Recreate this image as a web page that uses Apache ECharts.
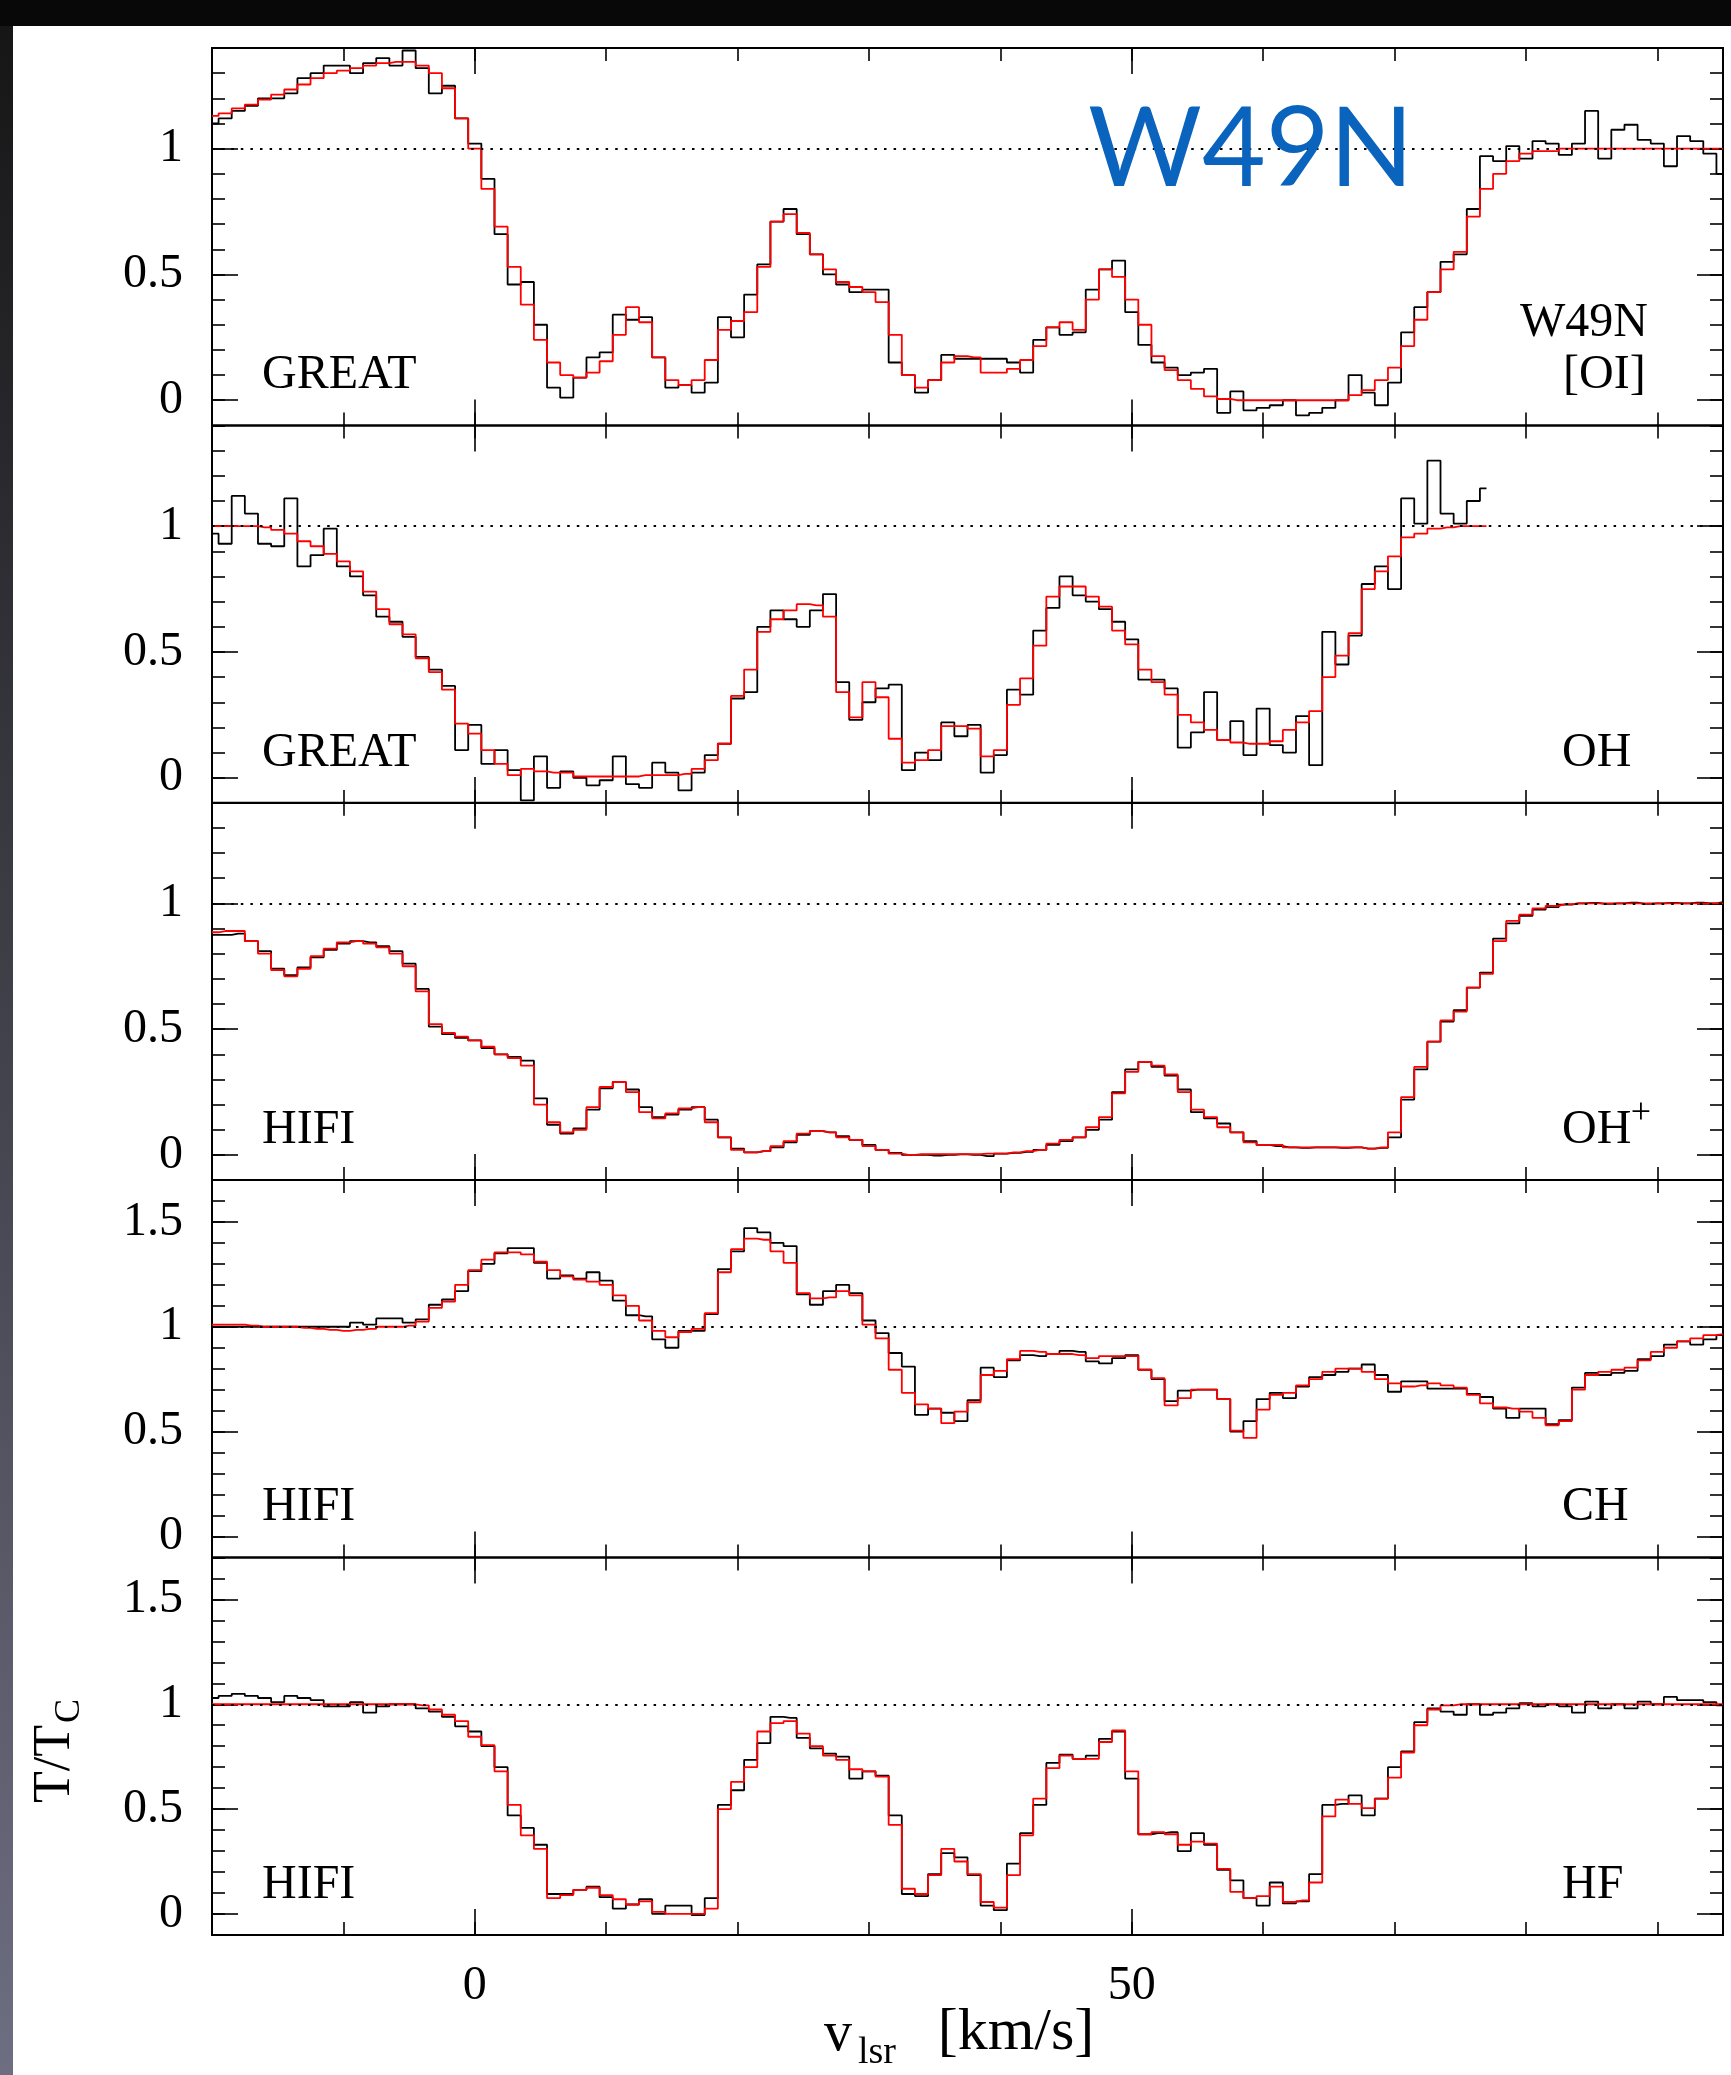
<!DOCTYPE html>
<html><head><meta charset="utf-8">
<script src="https://cdn.jsdelivr.net/npm/echarts@6/dist/echarts.min.js"></script>
<style>html,body{margin:0;padding:0;background:#fff}#c{width:1731px;height:2075px}</style>
</head><body><div id="c"></div>
<script>
// ---------------- DATA ----------------
// channel velocities (km/s)
const velocity = [-20,-19,-18,-17,-16,-15,-14,-13,-12,-11,-10,-9,-8,-7,-6,-5,-4,-3,-2,-1,
 0,1,2,3,4,5,6,7,8,9,10,11,12,13,14,15,16,17,18,19,20,21,22,23,24,25,26,27,28,29,
 30,31,32,33,34,35,36,37,38,39,40,41,42,43,44,45,46,47,48,49,50,51,52,53,54,55,56,57,58,59,
 60,61,62,63,64,65,66,67,68,69,70,71,72,73,74,75,76,77,78,79,80,81,82,83,84,85,86,87,88,89,
 90,91,92,93,94,95];
const velocityOH = velocity.slice(0, 98); // OH spectrum stops at 77 km/s

// [OI] (GREAT)
const oiObs = [1.10,1.12,1.15,1.17,1.20,1.20,1.22,1.28,1.30,1.33,
 1.33,1.30,1.34,1.36,1.33,1.39,1.32,1.22,1.25,1.12,
 1.02,0.88,0.66,0.46,0.47,0.30,0.05,0.01,0.09,0.17,
 0.19,0.34,0.32,0.33,0.17,0.05,0.06,0.03,0.07,0.33,
 0.25,0.42,0.54,0.71,0.76,0.66,0.58,0.50,0.46,0.43,
 0.44,0.44,0.15,0.10,0.03,0.08,0.18,0.165,0.165,0.165,
 0.165,0.15,0.11,0.24,0.29,0.26,0.27,0.44,0.52,0.555,
 0.35,0.22,0.15,0.13,0.10,0.11,0.125,-0.05,0.035,-0.04,
 -0.03,-0.02,0.0,-0.06,-0.05,-0.03,0.0,0.10,0.03,-0.02,
 0.07,0.27,0.37,0.43,0.55,0.58,0.76,0.97,0.95,1.01,
 0.96,1.03,1.02,0.975,1.02,1.15,0.96,1.075,1.095,1.035,
 1.02,0.93,1.05,1.03,0.98,0.90];
const oiFit = [1.13,1.14,1.16,1.175,1.195,1.215,1.235,1.255,1.28,1.30,
 1.31,1.32,1.33,1.34,1.345,1.345,1.33,1.30,1.24,1.12,
 1.00,0.84,0.69,0.53,0.38,0.24,0.15,0.10,0.09,0.11,
 0.155,0.26,0.37,0.31,0.17,0.08,0.06,0.08,0.16,0.28,
 0.315,0.35,0.53,0.71,0.74,0.665,0.58,0.52,0.47,0.45,
 0.43,0.39,0.26,0.10,0.05,0.08,0.15,0.175,0.17,0.11,
 0.11,0.125,0.16,0.215,0.29,0.31,0.28,0.40,0.52,0.49,
 0.40,0.30,0.175,0.12,0.08,0.045,0.015,0.005,0.0,0.0,
 0.0,0.0,0.0,0.0,0.0,0.0,0.0,0.02,0.04,0.08,
 0.13,0.215,0.32,0.43,0.52,0.59,0.73,0.84,0.90,0.95,
 0.98,0.99,0.99,1.0,1.0,1.0,1.0,1.0,1.0,1.0,
 1.0,1.0,1.0,1.0,1.0,1.0];

// OH (GREAT)
const ohObs = [0.97,0.93,1.12,1.05,0.93,0.92,1.11,0.84,0.885,0.99,
 0.84,0.80,0.725,0.64,0.62,0.56,0.48,0.43,0.365,0.11,
 0.21,0.055,0.11,0.03,-0.09,0.085,-0.04,0.025,0.0,-0.03,
 -0.01,0.085,-0.025,-0.04,0.06,0.02,-0.05,0.02,0.09,0.135,
 0.315,0.34,0.60,0.665,0.63,0.60,0.665,0.73,0.38,0.23,
 0.30,0.355,0.37,0.03,0.10,0.07,0.22,0.165,0.21,0.02,
 0.09,0.35,0.33,0.585,0.675,0.80,0.725,0.70,0.67,0.62,
 0.55,0.39,0.39,0.355,0.12,0.18,0.34,0.15,0.225,0.09,
 0.275,0.13,0.10,0.245,0.05,0.58,0.45,0.565,0.77,0.84,
 0.75,1.11,1.01,1.26,1.05,1.01,1.10,1.15];
const ohFit = [1.0,1.0,1.0,1.0,0.995,0.985,0.97,0.94,0.92,0.89,
 0.86,0.82,0.74,0.67,0.61,0.57,0.475,0.42,0.35,0.215,
 0.175,0.11,0.055,0.01,0.035,0.025,0.02,0.02,0.005,0.005,
 0.005,0.005,0.005,0.01,0.01,0.01,0.015,0.035,0.07,0.135,
 0.325,0.43,0.58,0.63,0.665,0.69,0.685,0.64,0.34,0.24,
 0.38,0.32,0.155,0.06,0.07,0.11,0.205,0.205,0.195,0.085,
 0.11,0.29,0.395,0.525,0.72,0.76,0.76,0.72,0.68,0.585,
 0.53,0.43,0.38,0.33,0.25,0.22,0.19,0.15,0.14,0.135,
 0.135,0.145,0.19,0.22,0.265,0.40,0.485,0.575,0.75,0.82,
 0.88,0.955,0.97,0.99,0.995,1.0,1.0,1.0];

// OH+ (HIFI)
const ohpObs = [0.875,0.875,0.88,0.85,0.81,0.74,0.715,0.745,0.785,0.815,
 0.84,0.85,0.845,0.83,0.81,0.76,0.66,0.51,0.48,0.465,
 0.455,0.425,0.40,0.39,0.375,0.225,0.12,0.085,0.105,0.18,
 0.265,0.29,0.26,0.19,0.15,0.16,0.18,0.19,0.14,0.07,
 0.025,0.01,0.015,0.03,0.05,0.08,0.095,0.09,0.075,0.06,
 0.04,0.02,0.008,0.0,0.0,-0.003,0.0,0.002,0.0,-0.005,
 0.005,0.008,0.012,0.02,0.04,0.055,0.07,0.10,0.14,0.25,
 0.34,0.37,0.35,0.315,0.26,0.17,0.145,0.125,0.09,0.055,
 0.04,0.035,0.03,0.028,0.03,0.03,0.028,0.03,0.025,0.028,
 0.07,0.22,0.34,0.45,0.53,0.575,0.665,0.725,0.86,0.92,
 0.95,0.975,0.985,0.995,1.0,1.002,0.998,1.0,1.003,0.998,
 1.0,1.002,1.0,1.003,1.0,1.005];
const ohpFit = [0.885,0.89,0.89,0.85,0.80,0.735,0.71,0.74,0.79,0.82,
 0.845,0.85,0.84,0.825,0.80,0.75,0.65,0.52,0.485,0.47,
 0.455,0.43,0.40,0.385,0.355,0.20,0.13,0.09,0.10,0.19,
 0.27,0.29,0.25,0.17,0.145,0.165,0.185,0.19,0.13,0.07,
 0.02,0.01,0.015,0.035,0.055,0.085,0.095,0.09,0.07,0.06,
 0.035,0.02,0.005,0.0,0.003,0.003,0.003,0.003,0.003,0.005,
 0.005,0.01,0.015,0.02,0.045,0.06,0.07,0.11,0.15,0.245,
 0.33,0.37,0.355,0.32,0.25,0.18,0.15,0.11,0.09,0.05,
 0.04,0.04,0.03,0.03,0.03,0.03,0.03,0.03,0.025,0.03,
 0.09,0.23,0.35,0.45,0.535,0.57,0.665,0.72,0.85,0.93,
 0.955,0.98,0.99,0.997,1.0,1.0,1.0,1.0,1.0,1.0,
 1.0,1.0,1.0,1.0,1.0,1.0];

// CH (HIFI)
const chObs = [1.0,1.0,1.0,1.0,1.0,1.0,1.0,1.0,1.0,1.0,
 1.0,1.02,1.01,1.04,1.04,1.02,1.035,1.105,1.13,1.17,
 1.265,1.30,1.35,1.375,1.375,1.305,1.23,1.245,1.23,1.26,
 1.22,1.125,1.055,1.05,0.94,0.90,0.98,0.98,1.06,1.275,
 1.36,1.47,1.45,1.40,1.385,1.155,1.105,1.17,1.20,1.16,
 1.03,0.97,0.875,0.81,0.58,0.61,0.59,0.55,0.65,0.805,
 0.76,0.84,0.865,0.86,0.87,0.885,0.88,0.835,0.825,0.85,
 0.865,0.795,0.75,0.645,0.695,0.70,0.70,0.655,0.50,0.55,
 0.655,0.685,0.66,0.715,0.76,0.77,0.785,0.80,0.82,0.77,
 0.69,0.74,0.74,0.705,0.705,0.705,0.68,0.665,0.61,0.565,
 0.61,0.61,0.535,0.555,0.71,0.78,0.77,0.78,0.79,0.845,
 0.86,0.915,0.93,0.915,0.94,0.96];
const chFit = [1.01,1.01,1.01,1.005,1.0,1.0,1.0,0.995,0.99,0.985,
 0.98,0.985,0.99,1.0,1.0,1.005,1.025,1.09,1.12,1.20,
 1.27,1.32,1.355,1.355,1.345,1.31,1.27,1.24,1.225,1.215,
 1.20,1.15,1.10,1.03,0.98,0.95,0.975,0.99,1.065,1.26,
 1.37,1.42,1.415,1.36,1.305,1.16,1.135,1.14,1.17,1.15,
 1.01,0.945,0.795,0.685,0.63,0.61,0.54,0.595,0.64,0.77,
 0.79,0.845,0.885,0.88,0.87,0.87,0.865,0.85,0.86,0.86,
 0.86,0.795,0.755,0.625,0.66,0.70,0.70,0.655,0.505,0.47,
 0.605,0.675,0.685,0.72,0.75,0.785,0.80,0.80,0.785,0.75,
 0.73,0.715,0.72,0.73,0.72,0.71,0.675,0.635,0.615,0.61,
 0.595,0.565,0.53,0.55,0.70,0.77,0.785,0.795,0.805,0.84,
 0.88,0.90,0.93,0.945,0.96,0.965];

// HF (HIFI)
const hfObs = [1.03,1.04,1.05,1.04,1.03,1.01,1.04,1.03,1.02,0.99,
 0.99,1.01,0.96,0.99,1.0,1.0,0.98,0.965,0.94,0.895,
 0.87,0.80,0.70,0.47,0.41,0.33,0.095,0.095,0.115,0.13,
 0.08,0.025,0.045,0.07,0.0,0.04,0.04,-0.005,0.075,0.52,
 0.59,0.735,0.815,0.94,0.935,0.84,0.79,0.765,0.75,0.645,
 0.68,0.66,0.47,0.095,0.085,0.19,0.29,0.27,0.185,0.04,
 0.018,0.24,0.385,0.52,0.72,0.76,0.74,0.755,0.835,0.87,
 0.645,0.38,0.385,0.39,0.30,0.385,0.33,0.21,0.16,0.075,
 0.04,0.15,0.05,0.06,0.19,0.52,0.525,0.565,0.47,0.55,
 0.70,0.775,0.915,0.98,0.965,0.95,1.0,0.95,0.96,0.98,
 1.005,0.99,1.0,0.99,0.96,1.013,0.98,1.0,0.98,1.013,
 1.0,1.035,1.02,1.02,1.01,0.995];
const hfFit = [1.0,1.0,1.0,1.0,1.0,1.0,1.0,1.0,1.0,1.0,
 1.0,1.0,1.0,1.0,1.0,1.0,0.995,0.975,0.95,0.92,
 0.845,0.805,0.68,0.52,0.375,0.31,0.075,0.09,0.115,0.125,
 0.09,0.07,0.045,0.06,0.01,0.0,0.0,0.0,0.025,0.50,
 0.63,0.70,0.87,0.91,0.92,0.86,0.80,0.755,0.735,0.69,
 0.68,0.655,0.425,0.12,0.095,0.185,0.31,0.25,0.19,0.057,
 0.03,0.185,0.375,0.55,0.695,0.755,0.74,0.74,0.82,0.875,
 0.68,0.38,0.39,0.38,0.33,0.345,0.335,0.215,0.105,0.075,
 0.085,0.13,0.057,0.065,0.15,0.465,0.545,0.525,0.505,0.55,
 0.65,0.77,0.90,0.975,0.995,1.0,1.0,1.0,1.0,1.0,
 1.0,1.0,1.0,1.0,1.0,1.0,1.0,1.0,1.0,1.0,
 1.0,1.0,1.0,1.0,1.0,1.0];

// axis ticks / labels
const xMajorTicks = [0, 50];
const yLabels3 = [0, 0.5, 1];
const yLabels5 = [0, 0.5, 1, 1.5];

// ---------------- CHART ----------------
const SERIF = '"Liberation Serif", "Times New Roman", serif';
const panels = [
  {vel: velocity,   obs: oiObs,  fit: oiFit,  ymax: 1.4, ylab: yLabels3},
  {vel: velocityOH, obs: ohObs,  fit: ohFit,  ymax: 1.4, ylab: yLabels3},
  {vel: velocity,   obs: ohpObs, fit: ohpFit, ymax: 1.4, ylab: yLabels3},
  {vel: velocity,   obs: chObs,  fit: chFit,  ymax: 1.7, ylab: yLabels5},
  {vel: velocity,   obs: hfObs,  fit: hfFit,  ymax: 1.7, ylab: yLabels5}
];
const tops = [48, 425.5, 802.7, 1180, 1557.5];
const PH = 377.4, PL = 212, PW = 1511;

const grid = [], xAxis = [], yAxis = [], series = [];
const tickStyle = {color: '#000', width: 1.6};
const noLine = {show: false, onZero: false};
panels.forEach((p, i) => {
  grid.push({left: PL, top: tops[i], width: PW, height: PH, show: true,
    borderColor: '#000', borderWidth: 2, backgroundColor: 'transparent'});
  const last = i === panels.length - 1;
  ['bottom', 'top'].forEach(pos => {
    xAxis.push({type: 'value', gridIndex: i, position: pos, min: -20, max: 95, interval: 10,
      axisLine: noLine, splitLine: {show: false},
      axisTick: {inside: true, length: 13, lineStyle: tickStyle}, axisLabel: {show: false}});
    xAxis.push({type: 'value', gridIndex: i, position: pos, min: -20, max: 95,
      axisLine: noLine, splitLine: {show: false},
      axisTick: {inside: true, length: 26, customValues: xMajorTicks, lineStyle: tickStyle},
      axisLabel: {show: last && pos === 'bottom', customValues: xMajorTicks,
        fontFamily: SERIF, fontSize: 48, color: '#000', margin: 27}});
  });
  ['left', 'right'].forEach(pos => {
    yAxis.push({type: 'value', gridIndex: i, position: pos, min: -0.1, max: p.ymax, interval: 0.1,
      axisLine: noLine, splitLine: {show: false},
      axisTick: {inside: true, length: 13, lineStyle: tickStyle}, axisLabel: {show: false}});
    yAxis.push({type: 'value', gridIndex: i, position: pos, min: -0.1, max: p.ymax,
      axisLine: noLine, splitLine: {show: false},
      axisTick: {inside: true, length: 26, customValues: p.ylab, lineStyle: tickStyle},
      axisLabel: {show: pos === 'left', customValues: p.ylab, fontFamily: SERIF, fontSize: 48,
        color: '#000', margin: 29}});
  });
  series.push({type: 'line', xAxisIndex: 4 * i, yAxisIndex: 4 * i, step: 'middle',
    data: p.vel.map((v, k) => [v, p.obs[k]]), symbol: 'none', clip: true,
    lineStyle: {color: '#000', width: 1.8}, z: 3,
    markLine: {silent: true, symbol: 'none', label: {show: false},
      lineStyle: {color: '#000', type: [2.5, 7.1], width: 2}, data: [{yAxis: 1}]}});
  series.push({type: 'line', xAxisIndex: 4 * i, yAxisIndex: 4 * i, step: 'middle',
    data: p.vel.map((v, k) => [v, p.fit[k]]), symbol: 'none', clip: true,
    lineStyle: {color: '#ff0000', width: 1.8}, z: 4});
});

function txt(x, y, s, size, opt) {
  return Object.assign({type: 'text', x: x, y: y, silent: true, z: 10,
    style: Object.assign({text: s, fontFamily: SERIF, fontSize: size, fill: '#000',
      align: 'left', verticalAlign: 'middle'}, (opt && opt.style) || {})},
    (opt && opt.el) || {});
}
const bottoms = tops.map(t => t + PH);
const graphic = [
  {type: 'rect', shape: {x: 0, y: 0, width: 13, height: 2075}, silent: true,
   style: {fill: {type: 'linear', x: 0, y: 0, x2: 0, y2: 1,
     colorStops: [{offset: 0, color: '#151515'}, {offset: 1, color: '#6e6e82'}]}}},
  {type: 'rect', shape: {x: 0, y: 0, width: 1731, height: 26}, silent: true,
   style: {fill: '#080808'}},
  txt(1088, 151, 'W49N', 110, {style: {fontFamily: 'Lato, "Open Sans", sans-serif', fill: '#0a64bd'}}),
  txt(262, bottoms[0] - 50, 'GREAT', 48),
  txt(1648, 323, 'W49N', 48, {style: {align: 'right'}}),
  txt(1563, bottoms[0] - 50, '[OI]', 48),
  txt(262, bottoms[1] - 50, 'GREAT', 48),
  txt(1562, bottoms[1] - 50, 'OH', 48),
  txt(262, bottoms[2] - 50, 'HIFI', 48),
  txt(1562, bottoms[2] - 50, 'OH', 48),
  txt(1641, bottoms[2] - 67, '+', 36, {style: {align: 'center'}}),
  txt(262, bottoms[3] - 50, 'HIFI', 48),
  txt(1562, bottoms[3] - 50, 'CH', 48),
  txt(262, bottoms[4] - 50, 'HIFI', 48),
  txt(1562, bottoms[4] - 50, 'HF', 48),
  // x axis title
  txt(838, 2035, 'v', 56, {style: {align: 'center'}}),
  txt(877, 2053, 'lsr', 38, {style: {align: 'center'}}),
  txt(1016, 2033, '[km/s]', 60, {style: {align: 'center'}}),
  // y axis title (rotated)
  txt(55, 1764, 'T/T', 52, {style: {align: 'center'}, el: {rotation: Math.PI / 2}}),
  txt(70, 1711, 'C', 36, {style: {align: 'center'}, el: {rotation: Math.PI / 2}})
];

const chart = echarts.init(document.getElementById('c'), null, {renderer: 'canvas'});
chart.setOption({animation: false, backgroundColor: '#fff', grid, xAxis, yAxis, series, graphic});
</script></body></html>
